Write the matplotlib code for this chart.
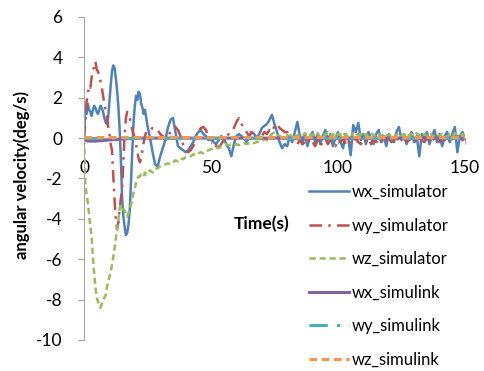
import numpy as np
import matplotlib
matplotlib.use("Agg")
import matplotlib.pyplot as plt

plt.rcParams['font.family'] = ['Lato', 'DejaVu Sans']
plt.rcParams['axes.unicode_minus'] = False

# time grid: 0.5 s steps for the first 25 s, then 1 s steps
t_a = np.arange(0, 25, 0.5)
t_b = np.arange(25, 151, 1)
time_s = np.concatenate([t_a, t_b])

wx_sim_a = [0.0, 1.5, 1.2, 1.7, 1.4, 1.3, 1.1, 1.4, 1.6, 1.5,
            1.3, 1.2, 1.4, 1.6, 1.5, 1.3, 1.0, 0.8, 0.7, 1.0,
            1.8, 2.6, 3.3, 3.6, 3.5, 3.0, 2.4, 1.6, 0.5, -1.0,
            -3.0, -3.9, -4.4, -4.8, -4.7, -4.3, -3.6, -2.2, -0.6, 0.8,
            1.6, 2.1, 1.9, 2.3, 2.2, 1.7, 1.5, 1.2, 1.4, 1.0]
wx_sim_b = [0.6, 0.0, -0.7, -1.3, -1.4, -0.9, -0.5, -0.1, 0.5, 0.9,
            1.0, 0.3, -0.4, -0.5, -0.6, -0.7, -0.6, -0.4, -0.2, 0.1,
            0.3, 0.4, 0.2, 0.1, -0.1, 0.0, -0.2, -0.3, -0.1, 0.1,
            0.0, -0.3, -0.5, -0.9, -0.3, 0.1, 0.2, 0.1, 0.0, -0.2,
            0.1, 0.3, 0.2, 0.0, 0.2, 0.5, 0.6, 0.7, 0.9, 1.15,
            0.7, 0.3, -0.2, -0.5, -0.3, -0.4, 0.1, -0.2, 0.3, 0.8,
            0.1, -0.3, 0.2, -0.4, 0.1, 0.3, -0.2, 0.2, -0.3, 0.1,
            0.4, -0.1, 0.2, -0.4, 0.0, 0.3, -0.2, -0.5, 0.2, 0.0,
            -0.85, 0.65, 0.3, 0.75, -0.1, 0.2, -0.3, 0.3, 0.0, -0.3,
            0.2, 0.4, -0.2, 0.1, -0.4, 0.2, 0.0, -0.2, 0.3, 0.55,
            -0.1, 0.2, -0.3, 0.1, 0.3, -0.2, 0.1, -0.9, 0.2, 0.0,
            0.3, -0.3, 0.1, 0.4, -0.2, 0.2, -0.4, 0.1, 0.3, -0.2,
            0.2, 0.55, -0.7, 0.1, 0.3, 0.0]

wy_sim_a = [0.0, 0.8, 1.8, 2.2, 2.6, 2.5, 3.0, 3.4, 3.5, 3.8,
            3.4, 3.3, 3.1, 2.8, 2.5, 2.1, 1.7, 1.4, 1.1, 0.6,
            0.2, -0.3, -0.6, -1.8, -3.0, -4.0, -4.5, -4.2, -3.5, -3.0,
            -2.5, -1.2, 0.2, 1.0, 1.3, 1.2, 1.0, 0.7, 0.4, 0.2,
            0.0, -0.3, -0.7, -1.0, -1.2, -1.0, -0.6, -0.2, 0.1, 0.3]
wy_sim_b = [0.4, 0.4, 0.5, 0.5, 0.4, 0.2, 0.1, -0.1, 0.1, 0.3,
            0.5, 0.55, 0.4, 0.1, -0.3, -0.5, -0.7, -0.6, -0.4, -0.1,
            0.3, 0.5, 0.55, 0.4, 0.1, -0.1, -0.3, -0.4, -0.45, -0.3,
            -0.1, 0.1, 0.2, 0.3, 0.5, 0.8, 1.0, 0.7, 0.5, 0.3,
            0.1, 0.3, 0.2, 0.0, 0.2, 0.1, 0.3, 0.2, 0.4, 0.3,
            0.6, 0.7, 0.5, 0.4, 0.3, 0.3, 0.1, 0.0, -0.2, -0.3,
            -0.1, -0.3, -0.2, 0.0, -0.3, -0.2, -0.4, -0.1, -0.4, -0.2,
            0.0, -0.3, -0.1, -0.2, -0.4, -0.1, -0.2, 0.0, -0.3, -0.1,
            -0.3, -0.2, 0.0, -0.2, -0.3, -0.1, -0.2, 0.0, -0.3, -0.1,
            -0.2, 0.0, -0.1, -0.3, -0.1, 0.0, -0.2, -0.1, 0.1, -0.2,
            -0.1, 0.0, -0.2, -0.1, 0.0, -0.2, -0.1, 0.0, -0.1, -0.2,
            0.0, -0.1, 0.1, -0.1, 0.0, -0.2, 0.0, -0.1, 0.1, -0.1,
            0.0, -0.1, 0.1, 0.0, -0.1, 0.0]

wz_sim_a = [0.0, -2.2, -2.8, -3.2, -3.8, -4.4, -4.9, -5.9, -6.7, -7.4,
            -7.9, -8.1, -8.3, -8.4, -8.2, -8.1, -7.9, -7.8, -7.4, -7.1,
            -6.9, -6.6, -6.3, -5.9, -5.5, -5.0, -4.5, -4.1, -3.5, -3.3,
            -3.4, -3.5, -3.6, -3.8, -3.9, -3.7, -3.5, -3.3, -3.0, -2.7,
            -2.5, -2.2, -2.0, -1.9, -1.9, -1.8, -1.8, -1.9, -1.7, -1.8]
wz_sim_b = [-1.7, -1.6, -1.7, -1.5, -1.5, -1.4, -1.35, -1.3, -1.25, -1.3,
            -1.2, -1.1, -1.15, -1.0, -1.05, -0.95, -0.9, -0.9, -0.8, -0.85,
            -0.75, -0.7, -0.75, -0.65, -0.6, -0.55, -0.5, -0.45, -0.5, -0.4,
            -0.35, -0.3, -0.35, -0.3, -0.35, -0.3, -0.35, -0.3, -0.25, -0.3,
            -0.25, -0.2, -0.25, -0.2, -0.15, -0.1, -0.05, -0.1, 0.1, 0.2,
            0.3, 0.2, 0.1, 0.05, 0.1, 0.15, 0.1, 0.2, 0.05, 0.15,
            0.2, 0.1, 0.25, 0.1, 0.15, 0.2, 0.1, 0.25, 0.05, 0.2,
            0.15, 0.3, 0.1, 0.2, 0.05, 0.2, 0.15, 0.3, 0.1, 0.2,
            0.05, 0.25, 0.1, 0.2, 0.15, 0.05, 0.2, 0.1, 0.25, 0.15,
            0.05, 0.2, 0.1, 0.25, 0.15, 0.1, 0.2, 0.05, 0.15, 0.25,
            0.1, 0.2, 0.05, 0.15, 0.2, 0.1, 0.25, 0.15, 0.05, 0.2,
            0.1, 0.25, 0.15, 0.05, 0.2, 0.1, 0.2, 0.15, 0.05, 0.2,
            0.1, 0.25, 0.15, 0.1, 0.2, 0.1]

wx_link_a = [0.0, -0.08, -0.12, -0.14, -0.15, -0.15, -0.15, -0.15, -0.15, -0.15,
             -0.14, -0.14, -0.13, -0.13, -0.12, -0.12, -0.11, -0.11, -0.1, -0.1,
             -0.09, -0.09, -0.08, -0.08, -0.07, -0.07, -0.06, -0.06, -0.05, -0.05,
             -0.05, -0.04, -0.04, -0.04, -0.03, -0.03, -0.03, -0.02, -0.02, -0.02,
             -0.02, -0.01, -0.01, -0.01, -0.01, 0.0, 0.0, 0.0, 0.0, 0.0]
wx_link_b = [0.0] * 126
wy_link = [0.0] * 176
wz_link = [0.05] * 176

series = [
    ("wx_simulator", wx_sim_a + wx_sim_b, "#4F81BD", "-", 1.8),
    ("wy_simulator", wy_sim_a + wy_sim_b, "#C0504D", (0, (5, 2.5, 1, 2.5)), 1.8),
    ("wz_simulator", wz_sim_a + wz_sim_b, "#9BBB59", (0, (2.5, 1.5)), 1.8),
    ("wx_simulink", wx_link_a + wx_link_b, "#8064A2", "-", 2.2),
    ("wy_simulink", wy_link, "#4BACC6", (0, (6, 3, 1, 3)), 2.2),
    ("wz_simulink", wz_link, "#F79646", (0, (2.5, 1.5)), 2.2),
]

fig = plt.figure(figsize=(4.84, 3.71), dpi=100)
ax = fig.add_axes([0.1736, 0.0836, 0.7871, 0.8706])

for name, vals, color, ls, lw in series:
    ax.plot(time_s, vals, color=color, linestyle=ls, linewidth=lw, label=name)

ax.set_xlim(0, 150)
ax.set_ylim(-10, 6)
ax.set_xticks([0, 50, 100, 150])
ax.set_yticks(np.arange(-10, 7, 2))

ax.spines['top'].set_visible(False)
ax.spines['right'].set_visible(False)
ax.spines['bottom'].set_position(('data', 0))
ax.spines['bottom'].set_color('#A6A6A6')
ax.spines['left'].set_color('#A6A6A6')
ax.spines['bottom'].set_zorder(0)
ax.tick_params(axis='y', direction='out', length=4.5, color='#A6A6A6', labelsize=12.5, pad=11)
ax.tick_params(axis='x', direction='out', length=4, color='#A6A6A6', labelsize=12.5, pad=12)

ax.set_ylabel("angular velocity(deg/s)", fontsize=12, fontweight='bold')
ax.yaxis.set_label_coords(-0.142, 0.51)
fig.text(0.541, 0.396, "Time(s)", fontsize=12.5, fontweight='bold', ha='center', va='center')

fig.legend(loc='upper left', bbox_to_anchor=(0.625, 0.522), frameon=False, fontsize=12,
           handlelength=2.4, handletextpad=0.15, labelspacing=1.05, borderaxespad=0)

fig.savefig("out.png", dpi=100)
